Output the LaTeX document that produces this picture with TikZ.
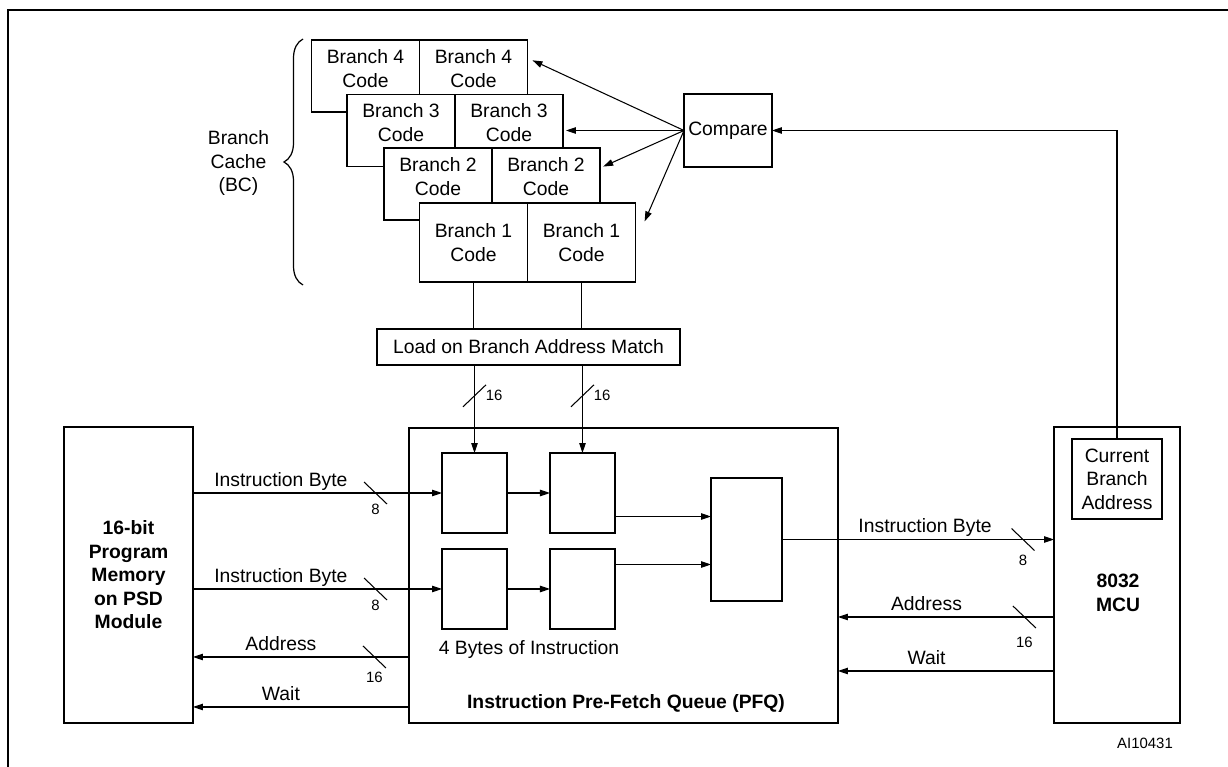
\documentclass[tikz,border=0pt]{standalone}
\usepackage{fontspec}
\setmainfont{Liberation Sans}
\usetikzlibrary{positioning, arrows.meta, decorations.pathreplacing}

\begin{document}
\begin{tikzpicture}[x=0.02cm, y=-0.02cm, node distance=0.86cm and 0.86cm]

			% Styles
			\tikzset{
				box/.style={draw, line width=1.1pt, fill=white, inner sep=0pt, outer sep=0pt},
				cell/.style={box, minimum width=2.16cm, minimum height=1.44cm},
				reg/.style={box, minimum width=1.3cm, minimum height=1.6cm},
				txt/.style={font=\fontsize{11}{13.4}\selectfont, align=center, inner sep=0pt},
				boldtxt/.style={txt, font=\fontsize{11}{13.4}\selectfont\bfseries},
				wire/.style={line width=0.6pt},
				arrow/.style={wire, -{Triangle[length=0.2cm, width=0.13cm]}},
				lbl/.style={font=\fontsize{11}{13.4}\selectfont, above, inner ysep=3.5pt, text depth=0pt},
				busnum/.style={font=\fontsize{8.5}{10}\selectfont, inner sep=0pt},
				brace/.style={line width=0.7pt, decorate, decoration={brace, amplitude=0.38cm}}
			}

			\useasboundingbox (0,0) rectangle (1228,767);

			% Frame
			\draw[line width=1.6pt] (8,767) -- (8,10) -- (1228,10);

			% Branch cache
			\node[cell] (b4a) at (365.5,76) {};
			\node[cell, right=0pt of b4a] (b4b) {};
			\node[txt] (t4a) at ([yshift=-0.57cm]b4a.north) {Branch 4\\Code};
			\node[txt] (t4b) at ([yshift=-0.57cm]b4b.north) {Branch 4\\Code};

			\node[cell] (b3a) at (401,130.5) {};
			\node[cell, right=0pt of b3a] (b3b) {};
			\node[txt] (t3a) at ([yshift=-0.56cm]b3a.north) {Branch 3\\Code};
			\node[txt] (t3b) at ([yshift=-0.56cm]b3b.north) {Branch 3\\Code};

			\node[cell] (b2a) at (438,184) {};
			\node[cell, right=0pt of b2a] (b2b) {};
			\node[txt] (t2a) at ([yshift=-0.57cm]b2a.north) {Branch 2\\Code};
			\node[txt] (t2b) at ([yshift=-0.57cm]b2b.north) {Branch 2\\Code};

			\node[cell, minimum height=1.58cm, txt] (b1a) at (473.5,242.5) {Branch 1\\Code};
			\node[cell, minimum height=1.58cm, txt, right=0pt of b1a] (b1b) {Branch 1\\Code};

			\draw[brace] (303,285) -- (303,39);
			\node[txt] (bclbl) at (238.5,163) {Branch\\Cache\\(BC)};

			% Compare
			\node[box, txt, minimum width=1.76cm, minimum height=1.46cm] (cmp) at (728,130.5) {Compare};
			\draw[arrow, shorten >=0.11cm] (cmp.west) -- ([yshift=0.36cm]b4b.east);
			\draw[arrow, shorten >=0.06cm] (cmp.west) -- (b3b.east);
			\draw[arrow, shorten >=0.07cm] (cmp.west) -- ([yshift=0.32cm]b2b.east);
			\draw[arrow, shorten >=0.46cm] (cmp.west) -- (b1b.east);

			% Load
			\node[box, txt, minimum width=6.06cm, minimum height=0.72cm] (load) at (528.5,347) {Load on Branch Address Match};
			\draw[wire] (b1a.south) -- (b1a.south |- load.north);
			\draw[wire] (b1b.south) -- (b1b.south |- load.north);

			% Pre-fetch queue
			\node[box, minimum width=8.58cm, minimum height=5.9cm] (pfq) at (623.5,575.5) {};
			\node[reg] (q1) at (474.5,493) {};
			\node[reg, right=of q1] (q2) {};
			\node[reg, below=0.32cm of q1] (q3) {};
			\node[reg, right=of q3] (q4) {};
			\node[box, minimum width=1.42cm, minimum height=2.46cm] (q5) at (746.5,539.5) {};
			\node[txt] (bytes) at (529,649) {4 Bytes of Instruction};
			\node[boldtxt] (pfqtitle) at (626,703) {Instruction Pre-Fetch Queue (PFQ)};

			\draw[arrow] (load.south -| q1.north) -- coordinate[pos=0.35] (bus1) (q1.north);
			\draw[arrow] (load.south -| q2.north) -- coordinate[pos=0.35] (bus2) (q2.north);
			\draw[arrow] (q1) -- (q2);
			\draw[arrow] (q3) -- (q4);
			\coordinate (q5a) at ([yshift=0.46cm]q5.west);
			\coordinate (q5b) at ([yshift=-0.5cm]q5.west);
			\draw[arrow] (q2.east |- q5a) -- (q5a);
			\draw[arrow] (q4.east |- q5b) -- (q5b);

			% Memory
			\node[box, boldtxt, minimum width=2.58cm, minimum height=5.92cm] (mem) at (128.5,575) {16-bit\\Program\\Memory\\on PSD\\Module};

			\draw[arrow] (mem.east |- q1.west) -- node[lbl, pos=0.353] (ib1lbl) {Instruction Byte} coordinate[pos=0.733] (ib1s) (q1.west);
			\draw[arrow] (mem.east |- q3.west) -- node[lbl, pos=0.353] (ib2lbl) {Instruction Byte} coordinate[pos=0.733] (ib2s) (q3.west);
			\coordinate (addrL) at ([yshift=1.32cm]pfq.south west);
			\draw[arrow] (addrL) -- node[lbl, pos=0.593] (adLlbl) {Address} coordinate[pos=0.16] (adLs) (addrL -| mem.east);
			\coordinate (waitL) at ([yshift=0.32cm]pfq.south west);
			\draw[arrow] (waitL) -- node[lbl, pos=0.593] (wtLlbl) {Wait} (waitL -| mem.east);

			% MCU
			\node[box, minimum width=2.52cm, minimum height=5.92cm] (mcu) at (1117,575) {};
			\node[box, txt, minimum width=1.8cm, minimum height=1.6cm] (cba) at (1117,479) {Current\\Branch\\Address};
			\node[boldtxt] (mcutxt) at (1118,593) {8032\\MCU};
			\draw[arrow] (cba.north) |- (cmp.east);

			\draw[arrow] (q5.east) -- node[lbl, pos=0.526] (ibRlbl) {Instruction Byte} coordinate[pos=0.886] (ibRs) (q5.east -| mcu.west);
			\coordinate (addrR) at ([yshift=2.12cm]mcu.south west);
			\draw[arrow] (addrR) -- node[lbl, pos=0.59] (adRlbl) {Address} coordinate[pos=0.137] (adRs) (addrR -| pfq.east);
			\coordinate (waitR) at ([yshift=1.04cm]mcu.south west);
			\draw[arrow] (waitR) -- node[lbl, pos=0.59] (wtRlbl) {Wait} (waitR -| pfq.east);

			% Bus widths
			\draw[wire] ([xshift=-0.23cm, yshift=-0.22cm]bus1) -- ([xshift=0.23cm, yshift=0.22cm]bus1);
			\node[busnum, right=0.22cm of bus1] (bus1n) {16};
			\draw[wire] ([xshift=-0.23cm, yshift=-0.22cm]bus2) -- ([xshift=0.23cm, yshift=0.22cm]bus2);
			\node[busnum, right=0.22cm of bus2] (bus2n) {16};
			\draw[wire] ([xshift=-0.23cm, yshift=0.22cm]ib1s) -- ([xshift=0.23cm, yshift=-0.22cm]ib1s);
			\node[busnum] (ib1n) at ([yshift=-0.33cm]ib1s) {8};
			\draw[wire] ([xshift=-0.23cm, yshift=0.22cm]ib2s) -- ([xshift=0.23cm, yshift=-0.22cm]ib2s);
			\node[busnum] (ib2n) at ([yshift=-0.33cm]ib2s) {8};
			\draw[wire] ([xshift=-0.23cm, yshift=0.22cm]adLs) -- ([xshift=0.23cm, yshift=-0.22cm]adLs);
			\node[busnum] (adLn) at ([yshift=-0.4cm]adLs) {16};
			\draw[wire] ([xshift=-0.23cm, yshift=0.22cm]ibRs) -- ([xshift=0.23cm, yshift=-0.22cm]ibRs);
			\node[busnum] (ibRn) at ([yshift=-0.42cm]ibRs) {8};
			\draw[wire] ([xshift=-0.23cm, yshift=0.22cm]adRs) -- ([xshift=0.23cm, yshift=-0.22cm]adRs);
			\node[busnum] (adRn) at ([yshift=-0.5cm]adRs) {16};

			\node[busnum] (figid) at (1145,743) {AI10431};

\end{tikzpicture}
\end{document}
